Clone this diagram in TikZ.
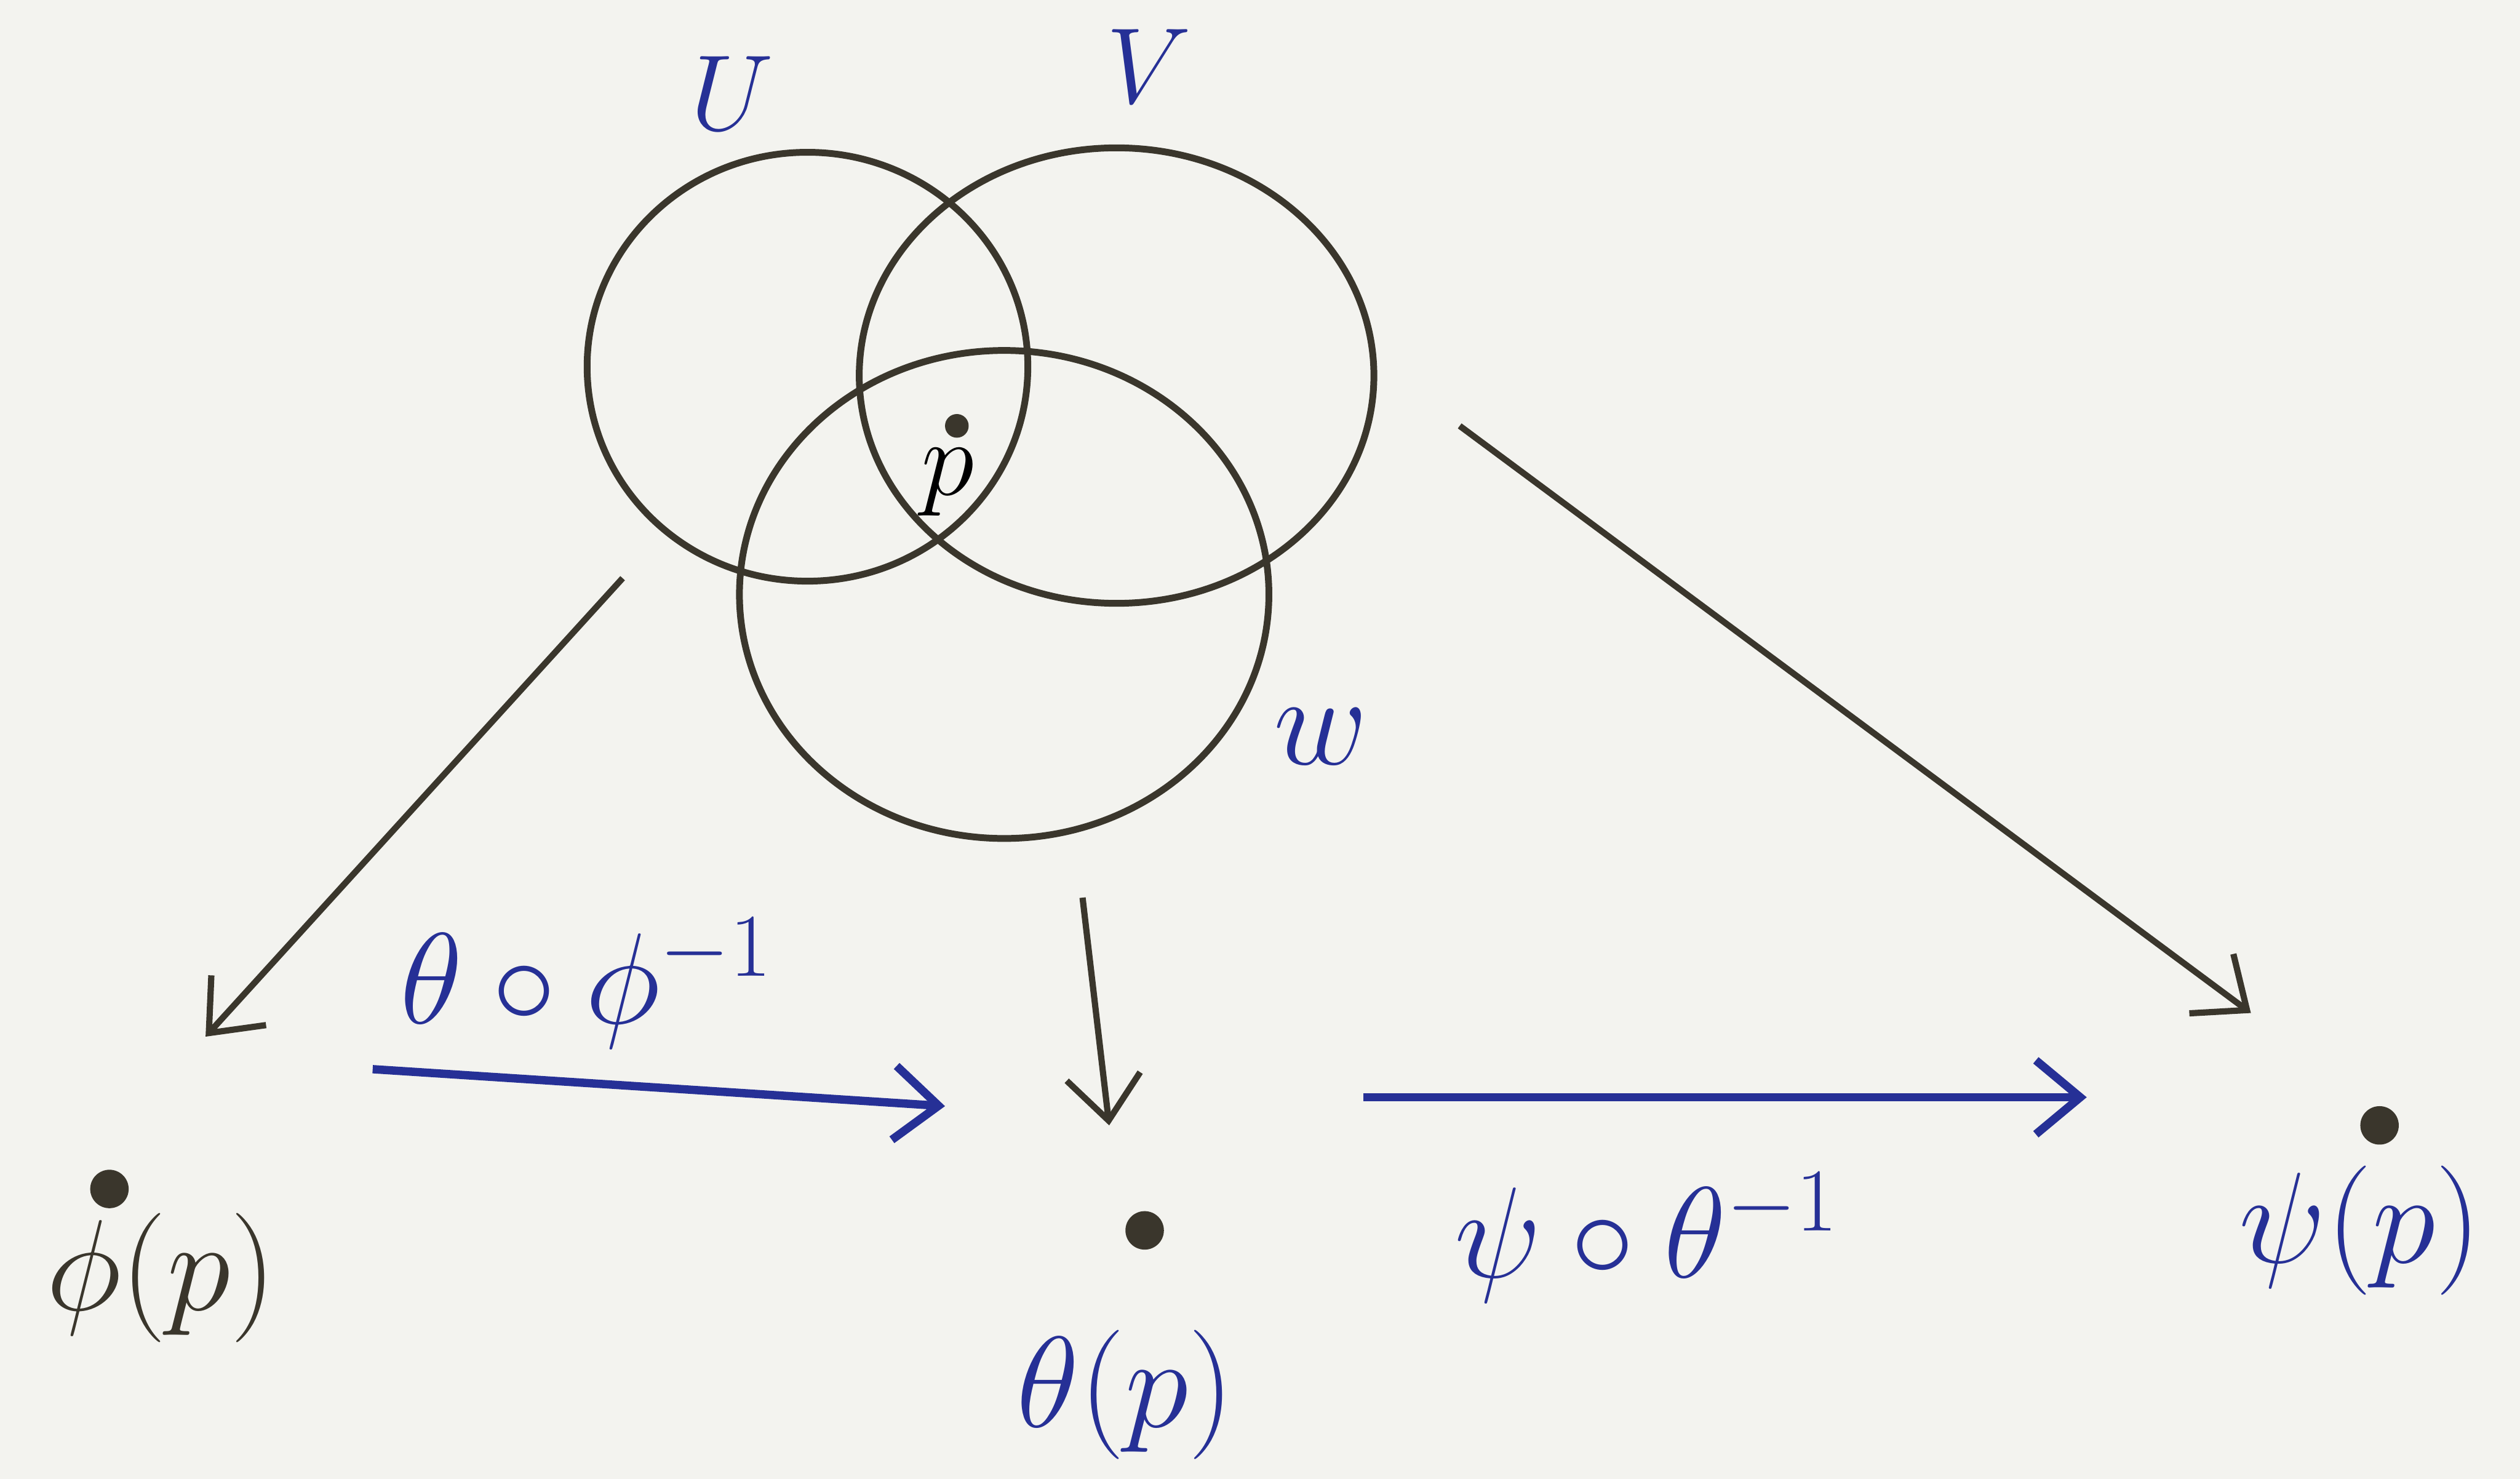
\documentclass[tikz,border=0pt]{standalone}
\usepackage{amsmath,amssymb}
\usepackage{tikz}
\usetikzlibrary{arrows.meta,positioning}
\definecolor{paper}{RGB}{243,243,239}
\definecolor{pencil}{RGB}{58,54,44}
\definecolor{penblue}{RGB}{38,48,150}
\tikzset{
  oset/.style   ={line width=1.3pt, pencil},
  pdot/.style   ={circle, fill=pencil, inner sep=0pt, minimum size=2.6mm},
  smalldot/.style={circle, fill=pencil, inner sep=0pt, minimum size=1.6mm},
  setlbl/.style ={text=penblue, font=\fontsize{26}{30}\selectfont},
  ptlbl/.style  ={font=\fontsize{30}{36}\selectfont},
  chart/.style  ={-{Straight Barb[length=3mm, width=5mm]}, line width=1.2pt, pencil},
  trans/.style  ={-{Straight Barb[length=3mm, width=5mm]}, line width=1.6pt, penblue},
}
\begin{document}
\begin{tikzpicture}
  \fill[paper] (0,0) rectangle (17.04,10);
  \useasboundingbox (0,0) rectangle (17.04,10);
  % the three charts
  \draw[oset] (5.46,7.52) ellipse [x radius=1.49, y radius=1.45];
  \draw[oset] (7.55,7.46) ellipse [x radius=1.74, y radius=1.54];
  \draw[oset] (6.79,5.98) ellipse [x radius=1.79, y radius=1.65];
  \node[setlbl, font=\fontsize{20}{24}\selectfont] (U) at (4.95,9.37) {$U$};
  \node[setlbl, font=\fontsize{20}{24}\selectfont] (V) at (7.77,9.55) {$V$};
  \node[setlbl] (W) at (8.93,5.02) {$w$};
  \node[smalldot] (p) at (6.47,7.12) {};
  \node[font=\fontsize{22}{26}\selectfont] (plbl) at (6.41,6.74) {$p$};
  % images of p
  \node[pdot] (phip)   at (0.74,1.96) {};
  \node[pdot] (thetap) at (7.74,1.68) {};
  \node[pdot] (psip)   at (16.09,2.39) {};
  \node[ptlbl, text=pencil]  (philbl)   at (1.09,1.36)  {$\phi(p)$};
  \node[ptlbl, text=penblue] (thetalbl) at (7.61,0.57)  {$\theta(p)$};
  \node[ptlbl, text=penblue] (psilbl)   at (15.96,1.68) {$\psi(p)$};
  % arrow ends
  \coordinate (lft0) at (4.21,6.09);
  \coordinate (lft1) at (1.39,2.99);
  \coordinate (mid0) at (7.32,3.93);
  \coordinate (mid1) at (7.50,2.39);
  \coordinate (rgt0) at (9.87,7.12);
  \coordinate (rgt1) at (15.22,3.15);
  \coordinate (ta0) at (2.52,2.77);
  \coordinate (ta1) at (6.39,2.52);
  \coordinate (tb0) at (9.22,2.58);
  \coordinate (tb1) at (14.11,2.58);
  \draw[chart] (lft0) -- (lft1);
  \draw[chart] (mid0) -- (mid1);
  \draw[chart] (rgt0) -- (rgt1);
  \draw[trans] (ta0) -- (ta1);
  \draw[trans] (tb0) -- (tb1);
  \node[setlbl] (tpi) at (3.97,3.35) {$\theta\circ\phi^{-1}$};
  \node[setlbl] (pti) at (11.14,1.63) {$\psi\circ\theta^{-1}$};
\end{tikzpicture}
\end{document}
